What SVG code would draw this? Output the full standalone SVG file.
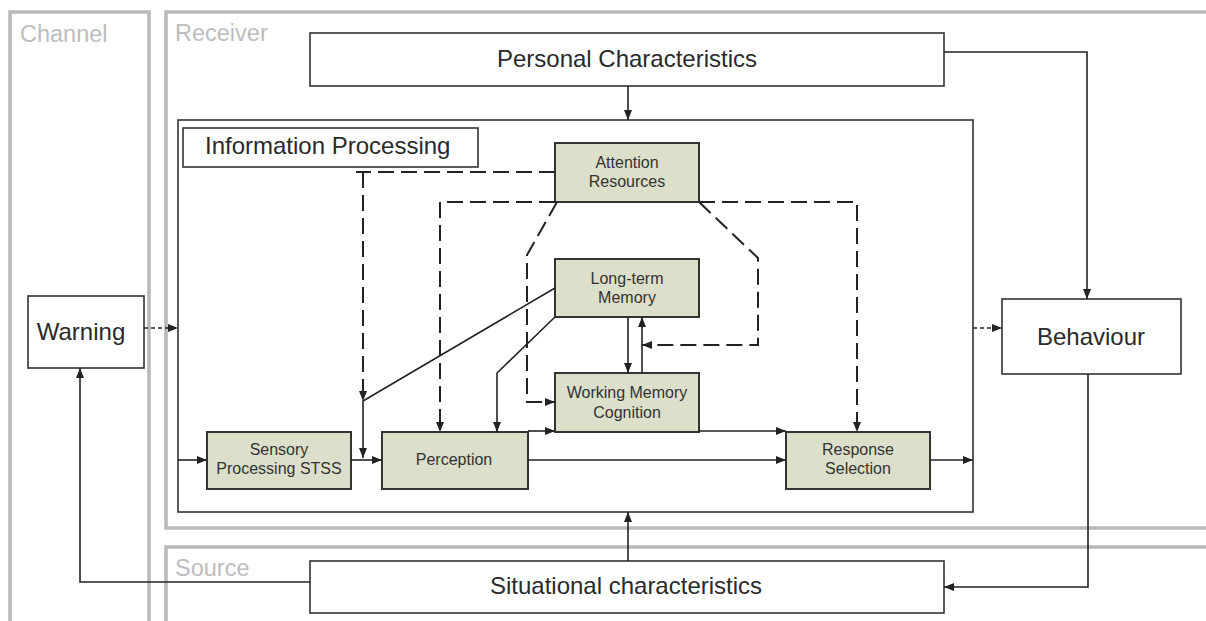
<svg xmlns="http://www.w3.org/2000/svg" width="1206" height="621" viewBox="0 0 1206 621">
  <defs>
    <marker id="arrow" markerUnits="userSpaceOnUse" markerWidth="10" markerHeight="8" refX="10" refY="4" orient="auto">
      <path d="M0,0 L10,4 L0,8 z" fill="#222"/>
    </marker>
    <style>
      .lane { fill: none; stroke: #b9b9b9; stroke-width: 3.5; }
      .lane-label { font-family: "Liberation Sans", Arial, sans-serif; font-size: 23.5px; fill: #bdbdbd; }
      .box { fill: #ffffff; stroke: #333; stroke-width: 1.6; }
      .step { fill: #dcdfc9; stroke: #333; stroke-width: 2; }
      .big { font-family: "Liberation Sans", Arial, sans-serif; font-size: 24px; fill: #2a2a2a; text-anchor: middle; }
      .small { font-family: "Liberation Sans", Arial, sans-serif; font-size: 16px; fill: #333; text-anchor: middle; }
      .solid { fill: none; stroke: #222; stroke-width: 1.6; }
      .dash { fill: none; stroke: #222; stroke-width: 2; stroke-dasharray: 16 7; }
      .dot { fill: none; stroke: #222; stroke-width: 1.6; stroke-dasharray: 4 3; }
    </style>
  </defs>

  <rect width="1206" height="621" fill="#ffffff"/>

  <!-- swimlanes -->
  <g id="lanes">
    <rect class="lane" x="10" y="12" width="139" height="640"/>
    <rect class="lane" x="166" y="12" width="1100" height="516"/>
    <rect class="lane" x="166" y="547" width="1100" height="120"/>
    <text class="lane-label" x="20" y="42">Channel</text>
    <text class="lane-label" x="175" y="41">Receiver</text>
    <text class="lane-label" x="175" y="576">Source</text>
  </g>

  <!-- information processing frame -->
  <g id="info-processing">
    <rect class="box" x="178" y="120" width="795" height="392"/>
    <rect class="box" x="183" y="128" width="295" height="39"/>
    <text class="big" x="205" y="154" style="text-anchor:start">Information Processing</text>
  </g>

  <g id="personal">
    <rect class="box" x="310" y="33" width="634" height="53"/>
    <text class="big" x="627" y="67">Personal Characteristics</text>
  </g>

  <g id="situational">
    <rect class="box" x="310" y="561" width="634" height="52"/>
    <text class="big" x="626" y="594">Situational characteristics</text>
  </g>

  <g id="warning">
    <rect class="box" x="28" y="296" width="116" height="72"/>
    <text class="big" x="81" y="340">Warning</text>
  </g>

  <g id="behaviour">
    <rect class="box" x="1002" y="299" width="179" height="75"/>
    <text class="big" x="1091" y="345">Behaviour</text>
  </g>

  <g id="attention">
    <rect class="step" x="555" y="143" width="144" height="59"/>
    <text class="small" x="627" y="168">Attention</text>
    <text class="small" x="627" y="187">Resources</text>
  </g>

  <g id="long-term-memory">
    <rect class="step" x="555" y="259" width="144" height="58"/>
    <text class="small" x="627" y="284">Long-term</text>
    <text class="small" x="627" y="303">Memory</text>
  </g>

  <g id="working-memory">
    <rect class="step" x="555" y="373" width="144" height="59"/>
    <text class="small" x="627" y="398">Working Memory</text>
    <text class="small" x="627" y="418">Cognition</text>
  </g>

  <g id="sensory">
    <rect class="step" x="207" y="432" width="144" height="57"/>
    <text class="small" x="279" y="455">Sensory</text>
    <text class="small" x="279" y="474">Processing STSS</text>
  </g>

  <g id="perception">
    <rect class="step" x="382" y="432" width="146" height="57"/>
    <text class="small" x="454" y="465">Perception</text>
  </g>

  <g id="response">
    <rect class="step" x="786" y="432" width="144" height="57"/>
    <text class="small" x="858" y="455">Response</text>
    <text class="small" x="858" y="474">Selection</text>
  </g>

  <!-- connectors -->
  <g id="connectors">
    <!-- outer flows -->
    <path class="solid" d="M628,86 V120" marker-end="url(#arrow)"/>
    <path class="solid" d="M944,52 H1087 V299" marker-end="url(#arrow)"/>
    <path class="solid" d="M1088,374 V587 H944" marker-end="url(#arrow)"/>
    <path class="solid" d="M310,582 H80 V368" marker-end="url(#arrow)"/>
    <path class="solid" d="M628,561 V512" marker-end="url(#arrow)"/>
    <path class="dot" d="M144,328 H178" marker-end="url(#arrow)"/>
    <path class="dot" d="M973,328 H1002" marker-end="url(#arrow)"/>

    <!-- processing chain -->
    <path class="solid" d="M178,460 H207" marker-end="url(#arrow)"/>
    <path class="solid" d="M351,460 H382" marker-end="url(#arrow)"/>
    <path class="solid" d="M528,460 H786" marker-end="url(#arrow)"/>
    <path class="solid" d="M528,431 H555" marker-end="url(#arrow)"/>
    <path class="solid" d="M699,431 H786" marker-end="url(#arrow)"/>
    <path class="solid" d="M930,460 H973" marker-end="url(#arrow)"/>

    <!-- memory exchange -->
    <path class="solid" d="M628,317 V373" marker-end="url(#arrow)"/>
    <path class="solid" d="M642,373 V317" marker-end="url(#arrow)"/>

    <!-- long-term memory feeds -->
    <path class="solid" d="M555,288 L363,401 V458" marker-end="url(#arrow)"/>
    <path class="solid" d="M555,317 L497,373 V432" marker-end="url(#arrow)"/>

    <!-- attention resource allocation -->
    <path class="dash" d="M555,172 H356"/>
    <path class="dash" d="M363,172 V401" marker-end="url(#arrow)"/>
    <path class="dash" d="M555,202 H440 V432" marker-end="url(#arrow)"/>
    <path class="dash" d="M699,202 H857 V432" marker-end="url(#arrow)"/>
    <path class="dash" d="M557,202 L527,255 V402 H555" marker-end="url(#arrow)"/>
    <path class="dash" d="M699,202 L758,258 V345 H642" marker-end="url(#arrow)"/>
  </g>
</svg>
